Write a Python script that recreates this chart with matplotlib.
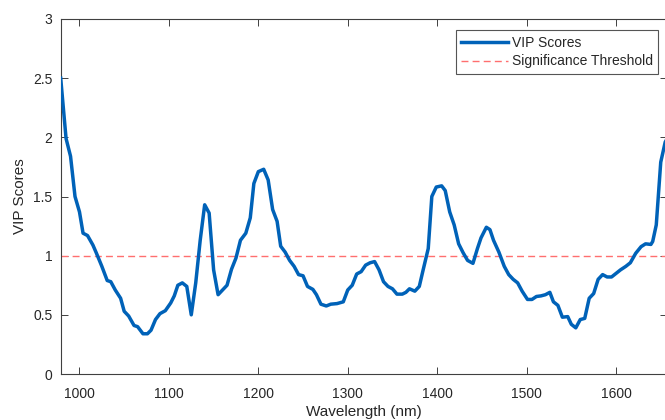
import matplotlib
matplotlib.use("Agg")
import matplotlib.pyplot as plt

plt.rcParams['font.family'] = ['Liberation Sans', 'DejaVu Sans']

# Wavelength grid (nm) and VIP scores
wavelength = [979, 985, 990, 995, 1000, 1004, 1009, 1015, 1019, 1025, 1031, 1035,
              1040, 1046, 1050, 1055, 1061, 1065, 1071, 1076, 1080, 1085, 1090,
              1096, 1102, 1106, 1110, 1115, 1120, 1125, 1130, 1135, 1140, 1145,
              1150, 1155, 1160, 1165, 1170, 1175, 1180, 1186, 1191, 1195, 1200,
              1206, 1211, 1216, 1221, 1225, 1230, 1235, 1240, 1245, 1250, 1255,
              1261, 1265, 1270, 1276, 1281, 1288, 1295, 1300, 1305, 1310, 1315,
              1320, 1325, 1330, 1335, 1340, 1345, 1350, 1355, 1361, 1365, 1369,
              1375, 1380, 1384, 1390, 1394, 1399, 1405, 1409, 1414, 1419, 1424,
              1429, 1434, 1440, 1445, 1449, 1455, 1459, 1463, 1469, 1475, 1480,
              1485, 1490, 1495, 1501, 1506, 1511, 1516, 1521, 1526, 1530, 1535,
              1540, 1546, 1550, 1555, 1560, 1565, 1570, 1575, 1580, 1585, 1590,
              1595, 1600, 1605, 1611, 1616, 1622, 1628, 1633, 1639, 1641, 1645,
              1650, 1655, 1658]
vip = [2.50, 1.99, 1.84, 1.50, 1.37, 1.19, 1.17, 1.09, 1.02, 0.91, 0.79, 0.78,
       0.71, 0.64, 0.53, 0.49, 0.41, 0.40, 0.34, 0.34, 0.37, 0.46, 0.51,
       0.535, 0.60, 0.66, 0.75, 0.77, 0.74, 0.50, 0.77, 1.13, 1.43, 1.36,
       0.88, 0.67, 0.71, 0.75, 0.885, 0.98, 1.13, 1.19, 1.32, 1.61, 1.71,
       1.73, 1.64, 1.39, 1.29, 1.08, 1.03, 0.96, 0.91, 0.84, 0.83, 0.74,
       0.715, 0.67, 0.59, 0.575, 0.59, 0.595, 0.61, 0.71, 0.75, 0.845, 0.865,
       0.92, 0.94, 0.95, 0.88, 0.78, 0.74, 0.72, 0.675, 0.675, 0.69, 0.72,
       0.70, 0.74, 0.87, 1.06, 1.50, 1.58, 1.59, 1.55, 1.37, 1.26, 1.10,
       1.025, 0.96, 0.935, 1.06, 1.15, 1.24, 1.22, 1.13, 1.03, 0.91, 0.84,
       0.80, 0.77, 0.70, 0.63, 0.63, 0.655, 0.66, 0.67, 0.69, 0.61, 0.58,
       0.48, 0.485, 0.42, 0.39, 0.46, 0.47, 0.64, 0.68, 0.80, 0.84, 0.82,
       0.82, 0.85, 0.88, 0.91, 0.94, 1.02, 1.076, 1.10, 1.095, 1.12, 1.26,
       1.79, 1.96, 2.00]
threshold = 1.0

x_ticks = [1000, 1100, 1200, 1300, 1400, 1500, 1600]
y_ticks = [0, 0.5, 1, 1.5, 2, 2.5, 3]
y_tick_labels = ['0', '0.5', '1', '1.5', '2', '2.5', '3']

W, H = 665, 420
fig = plt.figure(figsize=(W / 100, H / 100), dpi=100)
left_px, right_px, top_px, bottom_px = 60.7, 667.0, 19.0, 374.0
ax = fig.add_axes([left_px / W, (H - bottom_px) / H,
                   (right_px - left_px) / W, (bottom_px - top_px) / H])

ax.plot(wavelength, vip, color='#0062B8', lw=2.5, label='VIP Scores',
        solid_joinstyle='round', zorder=3)
ax.axhline(threshold, color='#FF6F6F', lw=1.0, dashes=(5, 3),
           label='Significance Threshold', zorder=2)

ax.set_xlim(979, 1657)
ax.set_ylim(0, 3)
ax.set_xticks(x_ticks)
ax.set_yticks(y_ticks)
ax.set_yticklabels(y_tick_labels)

axis_color = '#404040'
for s in ax.spines.values():
    s.set_color(axis_color)
    s.set_linewidth(0.8)
ax.tick_params(direction='in', length=5, width=0.7, color=axis_color,
               labelcolor='#262626', labelsize=10, top=True, right=True)
ax.tick_params(axis='x', pad=9)
ax.tick_params(axis='y', pad=6)

ax.set_xlabel('Wavelength (nm)', fontsize=11, color='#262626', labelpad=3)
ax.set_ylabel('VIP Scores', fontsize=11, color='#262626', labelpad=4)

leg = ax.legend(loc='upper right', bbox_to_anchor=(0.9857, 0.969),
                borderaxespad=0, fontsize=10, fancybox=False,
                edgecolor='#555555', framealpha=1, handlelength=3.4,
                handletextpad=0.25, labelspacing=0.35, borderpad=0.4)
leg.get_frame().set_linewidth(0.8)
for t in leg.get_texts():
    t.set_color('#262626')

fig.savefig('out.png', dpi=100)
